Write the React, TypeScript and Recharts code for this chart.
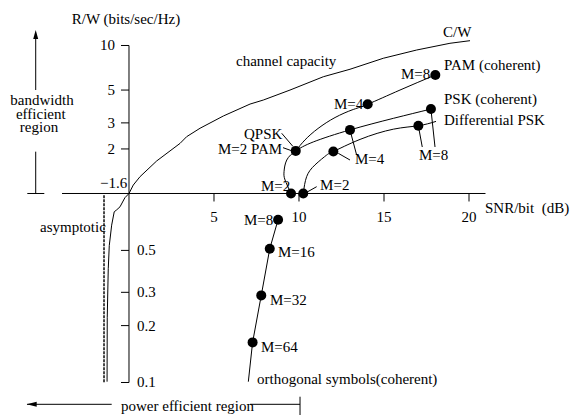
import React from 'react';
import { ComposedChart, Line, Scatter, XAxis, YAxis, ReferenceLine, ReferenceDot } from 'recharts';

// ---------------- data (SNR/bit in dB, R/W in bits/sec/Hz) ----------------
const capacitySNR = [-1.29, -1.28, -1.22, -1.16, -1.02, -0.87, -0.72, -0.53, -0.24, 0, 0.25, 0.65, 1.63, 3.0, 3.39, 4.18, 5.55, 7.12, 7.9, 9.47, 11.43, 13.0, 14.96, 16.92, 18.88, 20.06];
const capacityRW = [0.101, 0.22, 0.4, 0.53, 0.68, 0.8, 0.82, 0.85, 0.95, 1.0, 1.14, 1.3, 1.66, 2.18, 2.42, 2.76, 3.34, 4.02, 4.28, 5.0, 6.15, 6.91, 8.2, 9.32, 10.35, 10.78];

const pamSNR = [9.81, 10.35, 11.12, 12.12, 13.12, 14.04, 15.94, 18.02];
const pamRW = [1.94, 2.3, 2.75, 3.26, 3.67, 4.01, 5.0, 6.32];

const pskSNR = [9.53, 9.18, 9.12, 9.28, 9.81, 10.84, 13.0, 15.55, 17.76];
const pskRW = [1.0, 1.234, 1.404, 1.684, 1.94, 2.23, 2.69, 3.22, 3.72];

const dpskSNR = [10.25, 10.45, 10.94, 11.63, 12.02, 13.59, 15.55, 17.02, 18.06];
const dpskRW = [1.0, 1.3, 1.56, 1.82, 1.92, 2.32, 2.72, 2.87, 3.07];

const orthSNR = [8.77, 8.28, 7.78, 7.27, 7.02];
const orthRW = [0.727, 0.51, 0.289, 0.163, 0.101];

// marked operating points
const pamDotSNR = [9.81, 14.04, 18.02];
const pamDotRW = [1.94, 4.01, 6.32];
const pskDotSNR = [9.53, 13.0, 17.76];
const pskDotRW = [1.0, 2.69, 3.72];
const dpskDotSNR = [10.25, 12.02, 17.02];
const dpskDotRW = [1.0, 1.92, 2.87];
const orthDotSNR = [8.77, 8.28, 7.78, 7.27];
const orthDotRW = [0.727, 0.51, 0.289, 0.163];

const asymptoteSNR = -1.47;

// tick labels
const xTicks = [5, 10, 15, 20];
const yTicksUpper = [10, 5, 3, 2];
const yTicksLower = [0.5, 0.3, 0.2, 0.1];

// ---------------- layout / styles ----------------
const W = 576;
const H = 417;
const FONT = "'Liberation Serif', 'Times New Roman', Times, serif";
const FS = 15;
const TXT = { fontFamily: FONT, fontSize: FS };

// the figure's R/W axis: decades above 1 drawn shorter than those below 1
const UPPER_DECADE = 148;
const LOWER_DECADE = 189;
const u = (v: number) => (v >= 1 ? Math.log10(v) : (Math.log10(v) * LOWER_DECADE) / UPPER_DECADE);

const X_DOMAIN: [number, number] = [-7.5882, 26.2941];
const Y_DOMAIN: [number, number] = [-1.51014, 1.30743];

const rows = (xs: number[], ys: number[]) => xs.map((x, i) => ({ x, u: u(ys[i]), rw: ys[i] }));

const capRows = rows(capacitySNR, capacityRW);
const pamRows = rows(pamSNR, pamRW);
const pskRows = rows(pskSNR, pskRW);
const dpskRows = rows(dpskSNR, dpskRW);
const orthRows = rows(orthSNR, orthRW);
const dotRows = [
  ...rows(pamDotSNR, pamDotRW),
  ...rows(pskDotSNR, pskDotRW),
  ...rows(dpskDotSNR, dpskDotRW),
  ...rows(orthDotSNR, orthDotRW),
];

// annotation text (x in dB, rw = R/W at text baseline)
type Note = { text: string; x: number; rw: number; anchor?: 'start' | 'middle' | 'end' };
const NOTES: Note[] = [
  { text: 'R/W (bits/sec/Hz)', x: -3.37, rw: 14.08 },
  { text: 'bandwidth', x: -5.118, rw: 3.963, anchor: 'middle' },
  { text: 'efficient', x: -5.188, rw: 3.187, anchor: 'middle' },
  { text: 'region', x: -5.294, rw: 2.604, anchor: 'middle' },
  { text: 'asymptotic', x: -5.235, rw: 0.6256 },
  { text: 'channel capacity', x: 6.294, rw: 7.27 },
  { text: 'C/W', x: 18.47, rw: 11.41 },
  { text: 'PAM (coherent)', x: 18.53, rw: 6.83 },
  { text: 'PSK (coherent)', x: 18.53, rw: 4.025 },
  { text: 'Differential PSK', x: 18.53, rw: 2.903 },
  { text: 'M=8', x: 16.0, rw: 5.937 },
  { text: 'M=4', x: 12.06, rw: 3.724 },
  { text: 'QPSK', x: 6.765, rw: 2.334 },
  { text: 'M=2 PAM', x: 5.235, rw: 1.849 },
  { text: 'M=4', x: 13.29, rw: 1.582 },
  { text: 'M=8', x: 17.06, rw: 1.684 },
  { text: 'M=2', x: 7.765, rw: 1.04 },
  { text: 'M=2', x: 11.24, rw: 1.056 },
  { text: 'M=8', x: 6.765, rw: 0.6814 },
  { text: 'M=16', x: 8.765, rw: 0.4613 },
  { text: 'M=32', x: 8.294, rw: 0.257 },
  { text: 'M=64', x: 7.765, rw: 0.145 },
  { text: 'orthogonal symbols(coherent)', x: 7.529, rw: 0.0982 },
  { text: 'power efficient region', x: -0.471, rw: 0.0707 },
  { text: 'SNR/bit\u00a0\u00a0(dB)', x: 20.94, rw: 0.7886 },
  { text: '\u22121.6', x: -1.706, rw: 1.089 },
];

// annotation strokes: [x1, rw1, x2, rw2]
const SEGMENTS: [number, number, number, number][] = [
  // leader lines
  [8.982, 2.552, 9.647, 2.078],
  [9.06, 2.04, 9.529, 1.952],
  [13.0, 2.686, 13.39, 1.82],
  [12.31, 1.869, 13.0, 1.684],
  [17.76, 3.724, 18.0, 2.062],
  [17.02, 2.872, 17.25, 2.062],
  [10.41, 1.0125, 11.04, 1.112],
  // bandwidth efficient region arrow
  [-5.488, 5.003, -5.488, 11.96],
  [-5.488, 1.917, -5.488, 1.0],
  [-5.982, 1.0, -4.982, 1.0],
  // power efficient region arrow
  [-6.0, 0.07667, -1.018, 0.07667],
  [7.118, 0.07667, 10.06, 0.07667],
  [10.06, 0.0841, 10.06, 0.0673],
];

const Dot = (p: any) => <circle cx={p.cx} cy={p.cy} r={5} fill="#000" />;

const lineProps = {
  stroke: '#000',
  strokeWidth: 1,
  dot: false,
  activeDot: false,
  isAnimationActive: false,
} as const;

export default function App() {
  return (
    <div style={{ position: 'absolute', left: 0, top: 0, width: W, height: H, background: '#fff' }}>
      <ComposedChart width={W} height={H} margin={{ top: 0, right: 0, bottom: 0, left: 0 }}>
        <XAxis type="number" dataKey="x" domain={X_DOMAIN} hide allowDataOverflow />
        <YAxis type="number" dataKey="u" domain={Y_DOMAIN} hide allowDataOverflow />

        {/* axes */}
        <ReferenceLine segment={[{ x: -3.94, y: 0 }, { x: 20.97, y: 0 }]} stroke="#000" strokeWidth={1} />
        <ReferenceLine segment={[{ x: 0, y: u(0.1) }, { x: 0, y: u(10) }]} stroke="#000" strokeWidth={1} />
        <ReferenceLine
          segment={[{ x: asymptoteSNR, y: u(0.98) }, { x: asymptoteSNR, y: u(0.1) }]}
          stroke="#333"
          strokeWidth={1.8}
          strokeDasharray="3 1"
        />

        {xTicks.map((t) => (
          <ReferenceDot
            key={'xt' + t}
            x={t}
            y={0}
            r={1}
            shape={(p: any) => (
              <g>
                <line x1={p.cx} y1={p.cy} x2={p.cx} y2={p.cy + 8} stroke="#000" strokeWidth={1} />
                <text x={p.cx} y={p.cy + 29} textAnchor="middle" style={TXT} fill="#000">
                  {t}
                </text>
              </g>
            )}
          />
        ))}
        {yTicksUpper.map((t) => (
          <ReferenceDot
            key={'yu' + t}
            x={0}
            y={u(t)}
            r={1}
            shape={(p: any) => (
              <g>
                <line x1={p.cx - 8} y1={p.cy} x2={p.cx} y2={p.cy} stroke="#000" strokeWidth={1} />
                <text x={p.cx - 14} y={p.cy + 5} textAnchor="end" style={TXT} fill="#000">
                  {t}
                </text>
              </g>
            )}
          />
        ))}
        {yTicksLower.map((t) => (
          <ReferenceDot
            key={'yl' + t}
            x={0}
            y={u(t)}
            r={1}
            shape={(p: any) => (
              <g>
                <line x1={p.cx - 8} y1={p.cy} x2={p.cx} y2={p.cy} stroke="#000" strokeWidth={1} />
                <text x={p.cx + 8} y={p.cy + 5} textAnchor="start" style={TXT} fill="#000">
                  {t}
                </text>
              </g>
            )}
          />
        ))}

        {SEGMENTS.map((s, i) => (
          <ReferenceLine
            key={'seg' + i}
            segment={[{ x: s[0], y: u(s[1]) }, { x: s[2], y: u(s[3]) }]}
            stroke="#000"
            strokeWidth={1}
          />
        ))}

        {/* arrow heads */}
        <ReferenceDot
          x={-5.488}
          y={u(12.73)}
          r={1}
          shape={(p: any) => <path d={`M${p.cx},${p.cy} L${p.cx - 2.5},${p.cy + 9} L${p.cx + 2.5},${p.cy + 9} Z`} fill="#000" />}
        />
        <ReferenceDot
          x={-6.018}
          y={u(0.07667)}
          r={1}
          shape={(p: any) => <path d={`M${p.cx},${p.cy} L${p.cx + 10},${p.cy - 2.5} L${p.cx + 10},${p.cy + 2.5} Z`} fill="#000" />}
        />

        <Line data={capRows} dataKey="u" type="linear" {...lineProps} />
        <Line data={pamRows} dataKey="u" type="natural" {...lineProps} />
        <Line data={pskRows} dataKey="u" type="natural" {...lineProps} />
        <Line data={dpskRows} dataKey="u" type="natural" {...lineProps} />
        <Line data={orthRows} dataKey="u" type="linear" {...lineProps} />
        <Scatter data={dotRows} dataKey="u" shape={Dot} activeShape={Dot} isAnimationActive={false} />

        {NOTES.map((n, i) => (
          <ReferenceDot
            key={'note' + i}
            x={n.x}
            y={u(n.rw)}
            r={1}
            shape={(p: any) => (
              <text x={p.cx} y={p.cy} textAnchor={n.anchor || 'start'} style={TXT} fill="#000">
                {n.text}
              </text>
            )}
          />
        ))}
      </ComposedChart>
    </div>
  );
}
